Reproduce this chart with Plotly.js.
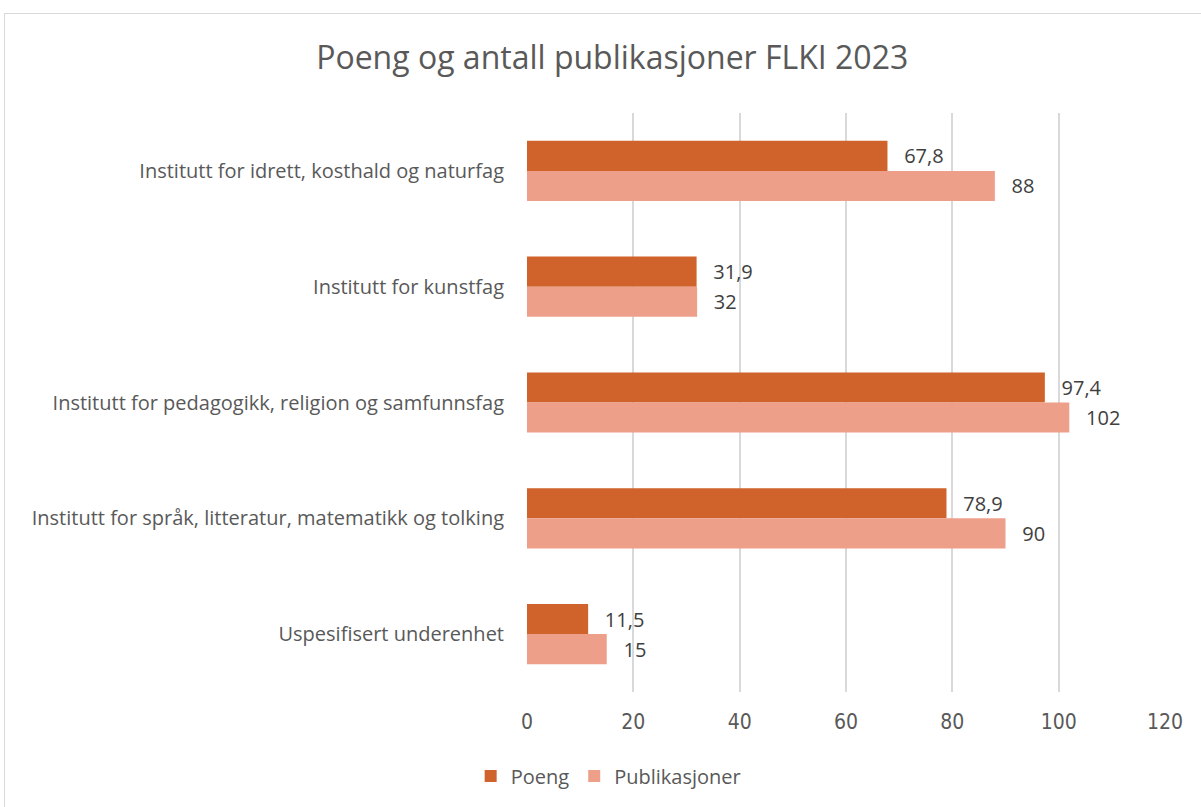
<!DOCTYPE html>
<html><head><meta charset="utf-8">
<script src="https://cdn.plot.ly/plotly-3.0.1.min.js"></script>
<style>
body{margin:0;background:#fff;}
#chart{position:absolute;left:4px;top:13px;width:1200px;height:800px;border:1px solid #d9d9d9;border-right:none;border-bottom:none;}
</style></head>
<body><div id="chart"></div>
<script>
const categories = [
  "Institutt for idrett, kosthald og naturfag",
  "Institutt for kunstfag",
  "Institutt for pedagogikk, religion og samfunnsfag",
  "Institutt for språk, litteratur, matematikk og tolking",
  "Uspesifisert underenhet"
];
const poeng = [67.8, 31.9, 97.4, 78.9, 11.5];
const publikasjoner = [88, 32, 102, 90, 15];
const xTicks = [0, 20, 40, 60, 80, 100, 120];

const pad = '\u00a0\u00a0\u2009';
const fmt = v => pad + String(v).replace('.', ',');
const font = "'Open Sans', 'Liberation Sans', sans-serif";
const narrow = "'Liberation Sans Narrow', 'DejaVu Sans Condensed', 'Open Sans', sans-serif";

const traces = [
  {type:'bar', orientation:'h', name:'Poeng', y:categories, x:poeng,
   text:poeng.map(fmt), textposition:'outside', cliponaxis:false,
   textfont:{size:20,color:'#404040',family:font},
   marker:{color:'#D0622B'}, hoverinfo:'x'},
  {type:'bar', orientation:'h', name:'Publikasjoner', y:categories, x:publikasjoner,
   text:publikasjoner.map(fmt), textposition:'outside', cliponaxis:false,
   textfont:{size:20,color:'#404040',family:font},
   marker:{color:'#EE9F89'}, hoverinfo:'x'}
];

const layout = {
  width:1200, height:800,
  margin:{l:522, r:40, t:99, b:122},
  paper_bgcolor:'#fff', plot_bgcolor:'#fff',
  font:{family:font, color:'#595959', size:20},
  title:{text:'Poeng og antall publikasjoner FLKI 2023', font:{size:32, color:'#595959', family:font},
         x:0.506, xanchor:'center', y:1-44/800, yanchor:'middle', yref:'container'},
  barmode:'group', bargap:0.48, bargroupgap:0,
  xaxis:{range:[0,120], tickvals:xTicks, showgrid:true, gridcolor:'#d9d9d9', gridwidth:2,
         zeroline:false, showline:false, ticks:'', ticklabelstandoff:15,
         tickfont:{size:21,color:'#595959',family:narrow}, fixedrange:true},
  yaxis:{autorange:'reversed', showgrid:false, zeroline:false, showline:false, ticks:'',
         ticklabelstandoff:22, tickfont:{size:20,color:'#595959'}},
  showlegend:true,
  legend:{orientation:'h', x:0.128, xanchor:'center', y:1-762/800, yref:'container', yanchor:'middle',
          font:{size:20,color:'#595959'}, traceorder:'normal'}
};
Plotly.newPlot('chart', traces, layout, {displayModeBar:false, staticPlot:true});
</script></body></html>
